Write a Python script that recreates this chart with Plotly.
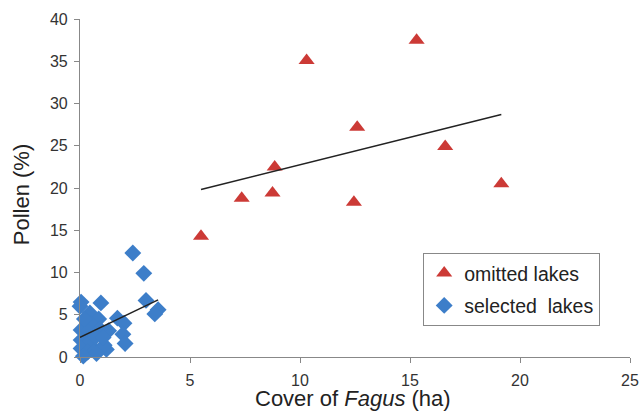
import numpy as np
import plotly.graph_objects as go

# omitted lakes (red triangles)
omitted_x = [5.5, 7.35, 8.75, 8.85, 10.3, 12.45, 12.6, 15.3, 16.6, 19.15]
omitted_y = [14.3, 18.8, 19.4, 22.5, 35.1, 18.3, 27.2, 37.5, 24.9, 20.5]

# selected lakes (blue diamonds)
selected_x = [2.4, 2.9, 3.0, 3.55, 3.4, 0.95, 0.05, 0.0, 0.45, 0.85, 1.7, 2.0, 0.5, 1.3,
              1.95, 2.05, 1.2, 0.05, 0.35, 0.9, 0.05, 0.45, 0.05, 0.35, 0.7, 1.1, 0.75,
              0.15, 0.7, 0.2, 1.05]
selected_y = [12.3, 9.9, 6.7, 5.6, 5.1, 6.4, 6.5, 6.0, 5.2, 4.5, 4.6, 4.0, 3.9, 3.1,
              2.7, 1.6, 0.9, 3.2, 3.0, 3.3, 2.0, 1.8, 1.0, 0.6, 0.8, 1.4, 0.4,
              0.1, 2.4, 4.5, 2.3]

x_ticks = [0, 5, 10, 15, 20, 25]
y_ticks = [0, 5, 10, 15, 20, 25, 30, 35, 40]

RED = "#cc3a36"
BLUE = "#3d7ec9"


def fit_line(xs, ys):
    xs = np.asarray(xs, float)
    ys = np.asarray(ys, float)
    m, b = np.polyfit(xs, ys, 1)
    xx = np.array([xs.min(), xs.max()])
    return xx, m * xx + b


fig = go.Figure()

fig.add_trace(go.Scatter(
    x=omitted_x, y=omitted_y, mode="markers", name="omitted lakes",
    legendgroup="a",
    marker=dict(symbol="triangle-up", size=14, color=RED, line=dict(width=0)),
    cliponaxis=False,
))
fig.add_trace(go.Scatter(
    x=selected_x, y=selected_y, mode="markers", name="selected  lakes",
    legendgroup="b",
    marker=dict(symbol="diamond", size=13, color=BLUE, line=dict(width=0)),
    cliponaxis=False,
))

lx, ly = fit_line(omitted_x, omitted_y)
fig.add_trace(go.Scatter(x=lx, y=ly, mode="lines", showlegend=False,
                         line=dict(color="#222222", width=1.5)))
lx, ly = fit_line(selected_x, selected_y)
fig.add_trace(go.Scatter(x=lx, y=ly, mode="lines", showlegend=False,
                         line=dict(color="#222222", width=1.5)))

font_family = "Liberation Sans, Arial, sans-serif"

fig.update_layout(
    width=641, height=414,
    margin=dict(l=80, r=11, t=19, b=57, autoexpand=False),
    paper_bgcolor="white", plot_bgcolor="white",
    font=dict(family=font_family, color="#333333", size=15),
    showlegend=True,
    legend=dict(
        x=0.624, y=0.308, xanchor="left", yanchor="top",
        bordercolor="#888888", borderwidth=1, bgcolor="white",
        font=dict(size=19.5, color="#222222"),
        traceorder="grouped", tracegroupgap=4,
        itemwidth=30,
    ),
    xaxis=dict(
        range=[0, 25], tickvals=x_ticks, ticktext=[str(v) for v in x_ticks],
        showgrid=False, zeroline=False, showline=True, linecolor="#888888", linewidth=1.2,
        ticks="outside", ticklen=5, tickcolor="#888888", ticklabelstandoff=4,
        tickfont=dict(size=16, color="#333333"), automargin=False,
    ),
    yaxis=dict(
        range=[0, 40], tickvals=y_ticks, ticktext=[str(v) for v in y_ticks],
        showgrid=False, zeroline=False, showline=True, linecolor="#888888", linewidth=1.2,
        ticks="outside", ticklen=5, tickcolor="#888888", ticklabelstandoff=3,
        tickfont=dict(size=16, color="#333333"), automargin=False,
    ),
    annotations=[
        dict(text="Cover of <i>Fagus</i> (ha)", xref="paper", yref="paper",
             x=0.497, y=-0.124, xanchor="center", yanchor="middle", showarrow=False,
             font=dict(size=22, color="#222222")),
        dict(text="Pollen (%)", xref="paper", yref="paper", textangle=-90,
             x=-0.107, y=0.479, xanchor="center", yanchor="middle", showarrow=False,
             font=dict(size=22, color="#222222")),
    ],
)

fig.write_html("out.html", config={"displayModeBar": False},
               post_script="document.body.style.margin='0';document.body.style.overflow='hidden';")
